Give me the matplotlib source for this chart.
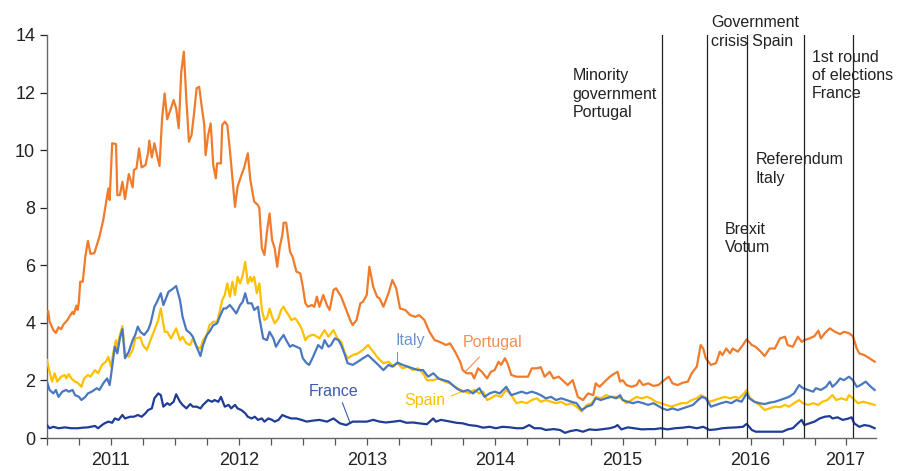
import matplotlib.pyplot as plt
from matplotlib.ticker import FixedLocator, NullFormatter

plt.rcParams['font.family'] = ['Liberation Sans', 'DejaVu Sans']

# --- data (decimal years, spread in %-points) ---
pt_x = [2011.01, 2011.02, 2011.05, 2011.07, 2011.09, 2011.11, 2011.13, 2011.16, 2011.18, 2011.20,
        2011.21, 2011.23, 2011.24, 2011.25, 2011.26, 2011.28, 2011.30, 2011.32, 2011.34, 2011.37,
        2011.39, 2011.41, 2011.44, 2011.47, 2011.48, 2011.49, 2011.51, 2011.54, 2011.55, 2011.57,
        2011.59, 2011.61, 2011.64, 2011.67, 2011.68, 2011.70, 2011.72, 2011.74, 2011.77, 2011.79,
        2011.80, 2011.82, 2011.84, 2011.86, 2011.88, 2011.90, 2011.92, 2011.94, 2011.96, 2011.99,
        2012.01, 2012.03, 2012.05, 2012.07, 2012.09, 2012.11, 2012.13, 2012.15, 2012.17, 2012.19,
        2012.21, 2012.23, 2012.24, 2012.26, 2012.28, 2012.30, 2012.32, 2012.33, 2012.36, 2012.37,
        2012.39, 2012.41, 2012.43, 2012.47, 2012.49, 2012.52, 2012.54, 2012.57, 2012.59, 2012.62,
        2012.65, 2012.66, 2012.68, 2012.70, 2012.72, 2012.74, 2012.76, 2012.78, 2012.80, 2012.82,
        2012.84, 2012.85, 2012.87, 2012.90, 2012.92, 2012.95, 2012.98, 2013.00, 2013.02, 2013.04,
        2013.07, 2013.09, 2013.11, 2013.13, 2013.16, 2013.19, 2013.21, 2013.24, 2013.26, 2013.30,
        2013.34, 2013.37, 2013.39, 2013.42, 2013.45, 2013.47, 2013.50, 2013.52, 2013.55, 2013.58,
        2013.60, 2013.63, 2013.67, 2013.70, 2013.73, 2013.76, 2013.80, 2013.84, 2013.88, 2013.91,
        2013.95, 2013.99, 2014.03, 2014.07, 2014.12, 2014.15, 2014.19, 2014.23, 2014.25, 2014.28,
        2014.32, 2014.34, 2014.37, 2014.40, 2014.44, 2014.47, 2014.50, 2014.53, 2014.55, 2014.58,
        2014.60, 2014.63, 2014.67, 2014.71, 2014.76, 2014.79, 2014.83, 2014.86, 2014.89, 2014.93,
        2014.96, 2015.00, 2015.03, 2015.07, 2015.11, 2015.15, 2015.19, 2015.23, 2015.27, 2015.29,
        2015.32, 2015.36, 2015.40, 2015.44, 2015.46, 2015.48, 2015.50, 2015.53, 2015.57, 2015.61,
        2015.63, 2015.66, 2015.70, 2015.74, 2015.78, 2015.81, 2015.86, 2015.89, 2015.93, 2015.97,
        2016.01, 2016.04, 2016.08, 2016.11, 2016.13, 2016.15, 2016.19, 2016.23, 2016.26, 2016.28,
        2016.31, 2016.34, 2016.36, 2016.40, 2016.44, 2016.47, 2016.51, 2016.54, 2016.58, 2016.61,
        2016.65, 2016.69, 2016.73, 2016.77, 2016.79, 2016.83, 2016.87, 2016.90, 2016.92, 2016.96,
        2017.00, 2017.03, 2017.05, 2017.08, 2017.12, 2017.16, 2017.20, 2017.23, 2017.27, 2017.30,
        2017.33, 2017.35, 2017.39, 2017.43, 2017.47]
pt_y = [4.40, 4.05, 3.75, 3.65, 3.85, 3.78, 3.95, 4.10, 4.25, 4.38,
        4.30, 4.60, 4.45, 4.75, 5.43, 5.43, 6.30, 6.85, 6.40, 6.42,
        6.70, 6.99, 7.57, 8.38, 8.67, 8.27, 10.24, 10.21, 8.44, 8.44,
        8.90, 8.30, 9.17, 8.71, 9.31, 9.37, 10.06, 9.40, 9.48, 9.89,
        10.33, 9.75, 10.24, 9.83, 9.45, 11.10, 11.97, 11.07, 11.33, 11.74,
        11.45, 10.76, 12.72, 13.42, 11.74, 10.29, 10.52, 11.28, 12.15, 12.20,
        11.51, 10.87, 9.83, 10.52, 10.93, 9.48, 9.02, 9.54, 9.54, 10.87,
        10.99, 10.87, 10.00, 8.03, 8.73, 9.13, 9.37, 9.89, 8.96, 8.21,
        8.09, 7.98, 6.59, 6.36, 7.17, 7.80, 6.88, 6.59, 5.95, 6.64,
        7.05, 7.48, 7.48, 6.47, 6.30, 5.78, 5.72, 5.26, 4.68, 4.56,
        4.62, 4.56, 4.91, 4.56, 4.97, 4.60, 4.45, 5.14, 5.20, 4.91,
        4.45, 4.10, 3.92, 4.10, 4.68, 4.73, 4.97, 5.95, 5.26, 4.91,
        4.85, 4.56, 5.03, 5.49, 5.20, 4.50, 4.45, 4.27, 4.21, 4.27,
        4.10, 3.69, 3.40, 3.34, 3.23, 3.29, 3.00, 2.65, 2.36, 2.25,
        2.25, 2.07, 2.42, 2.30, 2.07, 2.30, 2.36, 2.65, 2.54, 2.77,
        2.60, 2.19, 2.13, 2.13, 2.13, 2.42, 2.42, 2.46, 2.13, 2.30,
        2.07, 2.13, 2.01, 1.84, 2.01, 1.43, 1.32, 1.55, 1.49, 1.90,
        1.78, 1.96, 2.13, 2.25, 2.30, 1.96, 2.01, 1.84, 1.78, 1.84,
        2.01, 1.84, 1.90, 1.81, 1.84, 1.96, 2.13, 1.90, 1.84, 1.92,
        1.96, 2.25, 2.48, 3.23, 3.11, 2.77, 2.54, 2.60, 3.00, 2.88,
        3.11, 2.94, 3.11, 3.00, 3.23, 3.43, 3.23, 3.17, 3.00, 2.85,
        3.11, 3.11, 3.46, 3.52, 3.23, 3.17, 3.52, 3.34, 3.40, 3.46,
        3.54, 3.73, 3.46, 3.64, 3.81, 3.69, 3.61, 3.69, 3.64, 3.54,
        3.11, 2.94, 2.88, 2.77, 2.65]

es_x = [2011.00, 2011.02, 2011.04, 2011.06, 2011.08, 2011.11, 2011.14, 2011.15, 2011.17, 2011.19,
        2011.22, 2011.24, 2011.27, 2011.29, 2011.32, 2011.34, 2011.375, 2011.40, 2011.43, 2011.46,
        2011.48, 2011.50, 2011.52, 2011.54, 2011.55, 2011.57, 2011.59, 2011.61, 2011.64, 2011.67,
        2011.69, 2011.73, 2011.75, 2011.78, 2011.81, 2011.84, 2011.87, 2011.89, 2011.92, 2011.94,
        2011.97, 2011.99, 2012.01, 2012.04, 2012.06, 2012.09, 2012.12, 2012.14, 2012.17, 2012.20,
        2012.22, 2012.25, 2012.27, 2012.30, 2012.33, 2012.35, 2012.37, 2012.39, 2012.41, 2012.43,
        2012.45, 2012.47, 2012.49, 2012.51, 2012.53, 2012.55, 2012.57, 2012.59, 2012.60, 2012.62,
        2012.64, 2012.66, 2012.68, 2012.70, 2012.72, 2012.74, 2012.76, 2012.78, 2012.81, 2012.83,
        2012.85, 2012.87, 2012.89, 2012.91, 2012.94, 2012.96, 2012.99, 2013.02, 2013.04, 2013.07,
        2013.09, 2013.13, 2013.17, 2013.20, 2013.24, 2013.27, 2013.30, 2013.33, 2013.35, 2013.39,
        2013.43, 2013.47, 2013.51, 2013.55, 2013.59, 2013.63, 2013.67, 2013.71, 2013.74, 2013.78,
        2013.82, 2013.86, 2013.90, 2013.94, 2013.97, 2014.02, 2014.06, 2014.11, 2014.15, 2014.19,
        2014.23, 2014.27, 2014.30, 2014.34, 2014.38, 2014.41, 2014.44, 2014.47, 2014.51, 2014.55,
        2014.59, 2014.63, 2014.67, 2014.71, 2014.75, 2014.79, 2014.83, 2014.86, 2014.90, 2014.94,
        2014.98, 2015.02, 2015.06, 2015.10, 2015.14, 2015.18, 2015.22, 2015.26, 2015.29, 2015.33,
        2015.37, 2015.41, 2015.45, 2015.49, 2015.53, 2015.57, 2015.61, 2015.65, 2015.69, 2015.72,
        2015.76, 2015.80, 2015.84, 2015.88, 2015.92, 2015.96, 2016.00, 2016.04, 2016.08, 2016.11,
        2016.14, 2016.18, 2016.22, 2016.26, 2016.30, 2016.34, 2016.38, 2016.41, 2016.45, 2016.47,
        2016.49, 2016.53, 2016.57, 2016.61, 2016.65, 2016.69, 2016.73, 2016.77, 2016.80, 2016.84,
        2016.88, 2016.91, 2016.95, 2016.99, 2017.03, 2017.06, 2017.10, 2017.14, 2017.17, 2017.21,
        2017.25, 2017.27, 2017.30, 2017.34, 2017.38, 2017.42, 2017.47]
es_y = [2.71, 2.30, 1.96, 2.25, 1.96, 2.13, 2.19, 2.07, 2.22, 2.07,
        1.96, 1.92, 1.78, 2.07, 2.19, 2.13, 2.36, 2.25, 2.54, 2.65,
        2.82, 2.48, 3.00, 3.40, 3.06, 3.58, 3.89, 2.94, 2.82, 3.06,
        3.46, 3.50, 3.23, 3.06, 3.40, 3.75, 4.10, 4.50, 3.69, 3.69,
        3.46, 3.64, 3.81, 3.40, 3.52, 3.29, 3.23, 3.46, 3.17, 3.11,
        3.40, 3.58, 3.92, 4.04, 4.04, 4.39, 4.79, 4.97, 5.37, 4.91,
        5.43, 4.97, 5.60, 5.37, 5.66, 6.12, 5.37, 5.60, 5.43, 5.60,
        5.03, 5.37, 4.45, 4.10, 4.16, 4.50, 4.21, 3.98, 4.16, 4.45,
        4.56, 4.39, 4.27, 4.10, 4.16, 4.04, 3.81, 3.40, 3.52, 3.58,
        3.58, 3.46, 3.75, 3.52, 3.75, 3.46, 3.34, 2.94, 2.77, 2.88,
        2.94, 3.06, 3.23, 3.00, 2.77, 2.60, 2.65, 2.48, 2.60, 2.42,
        2.48, 2.36, 2.42, 2.25, 2.01, 2.01, 2.07, 1.96, 1.90, 1.78,
        1.67, 1.61, 1.55, 1.67, 1.55, 1.61, 1.32, 1.38, 1.49, 1.43,
        1.67, 1.49, 1.21, 1.26, 1.21, 1.32, 1.38, 1.26, 1.32, 1.26,
        1.21, 1.26, 1.15, 1.21, 1.09, 0.92, 1.15, 1.21, 1.43, 1.38,
        1.49, 1.43, 1.43, 1.38, 1.21, 1.32, 1.43, 1.38, 1.43, 1.38,
        1.26, 1.21, 1.15, 1.09, 1.15, 1.21, 1.21, 1.32, 1.38, 1.49,
        1.43, 1.26, 1.32, 1.38, 1.43, 1.38, 1.43, 1.38, 1.55, 1.67,
        1.43, 1.26, 1.15, 0.97, 1.03, 1.09, 1.07, 1.15, 1.09, 1.21,
        1.32, 1.21, 1.15, 1.21, 1.15, 1.26, 1.32, 1.49, 1.32, 1.38,
        1.32, 1.49, 1.38, 1.21, 1.26, 1.21, 1.15]

it_x = [2011.00, 2011.02, 2011.05, 2011.07, 2011.09, 2011.12, 2011.15, 2011.17, 2011.20, 2011.22,
        2011.25, 2011.27, 2011.30, 2011.32, 2011.35, 2011.39, 2011.41, 2011.44, 2011.47, 2011.49,
        2011.51, 2011.53, 2011.55, 2011.57, 2011.59, 2011.61, 2011.64, 2011.67, 2011.69, 2011.71,
        2011.73, 2011.76, 2011.79, 2011.81, 2011.84, 2011.86, 2011.89, 2011.91, 2011.93, 2011.95,
        2011.98, 2012.01, 2012.04, 2012.06, 2012.09, 2012.12, 2012.14, 2012.17, 2012.20, 2012.22,
        2012.25, 2012.27, 2012.30, 2012.33, 2012.35, 2012.38, 2012.40, 2012.43, 2012.46, 2012.48,
        2012.51, 2012.53, 2012.55, 2012.57, 2012.60, 2012.62, 2012.65, 2012.66, 2012.69, 2012.72,
        2012.74, 2012.77, 2012.79, 2012.82, 2012.85, 2012.87, 2012.90, 2012.92, 2012.95, 2012.98,
        2013.00, 2013.03, 2013.05, 2013.08, 2013.12, 2013.15, 2013.17, 2013.20, 2013.22, 2013.25,
        2013.28, 2013.30, 2013.33, 2013.35, 2013.39, 2013.43, 2013.47, 2013.51, 2013.55, 2013.59,
        2013.63, 2013.67, 2013.70, 2013.74, 2013.78, 2013.82, 2013.86, 2013.90, 2013.94, 2013.98,
        2014.02, 2014.06, 2014.10, 2014.14, 2014.20, 2014.25, 2014.29, 2014.33, 2014.38, 2014.42,
        2014.46, 2014.50, 2014.54, 2014.59, 2014.63, 2014.67, 2014.71, 2014.75, 2014.79, 2014.83,
        2014.86, 2014.90, 2014.94, 2014.98, 2015.02, 2015.06, 2015.10, 2015.14, 2015.18, 2015.22,
        2015.26, 2015.29, 2015.33, 2015.37, 2015.41, 2015.45, 2015.48, 2015.50, 2015.54, 2015.58,
        2015.62, 2015.66, 2015.70, 2015.74, 2015.78, 2015.81, 2015.85, 2015.89, 2015.93, 2015.97,
        2016.01, 2016.05, 2016.09, 2016.12, 2016.15, 2016.19, 2016.23, 2016.27, 2016.31, 2016.35,
        2016.39, 2016.43, 2016.47, 2016.49, 2016.53, 2016.57, 2016.61, 2016.65, 2016.69, 2016.73,
        2016.77, 2016.80, 2016.84, 2016.88, 2016.91, 2016.95, 2016.99, 2017.01, 2017.05, 2017.09,
        2017.12, 2017.14, 2017.17, 2017.20, 2017.23, 2017.27, 2017.30, 2017.33, 2017.36, 2017.40,
        2017.44, 2017.47]
it_y = [1.96, 1.67, 1.55, 1.67, 1.43, 1.61, 1.67, 1.61, 1.67, 1.49,
        1.43, 1.32, 1.43, 1.55, 1.61, 1.73, 1.67, 1.90, 2.07, 1.84,
        2.48, 3.17, 2.94, 3.46, 3.78, 2.77, 3.00, 3.40, 3.58, 3.87,
        3.69, 3.58, 3.75, 3.98, 4.56, 4.73, 5.03, 4.62, 4.85, 5.08,
        5.17, 5.28, 4.79, 4.21, 3.75, 3.64, 3.52, 3.17, 2.85, 3.23,
        3.58, 3.69, 3.92, 3.98, 4.21, 4.50, 4.50, 4.62, 4.45, 4.33,
        4.62, 4.73, 5.03, 4.68, 4.68, 4.45, 4.56, 4.21, 3.46, 3.40,
        3.69, 3.46, 3.17, 3.40, 3.58, 3.40, 3.17, 3.23, 3.17, 3.11,
        2.77, 2.60, 2.54, 2.82, 3.23, 3.11, 3.40, 3.17, 3.23, 3.46,
        3.40, 3.23, 2.88, 2.60, 2.54, 2.65, 2.77, 2.88, 2.71, 2.54,
        2.36, 2.54, 2.48, 2.62, 2.54, 2.48, 2.42, 2.36, 2.36, 2.13,
        2.25, 2.07, 2.01, 1.96, 1.73, 1.61, 1.67, 1.55, 1.73, 1.43,
        1.55, 1.61, 1.55, 1.78, 1.49, 1.55, 1.61, 1.55, 1.61, 1.55,
        1.49, 1.38, 1.43, 1.32, 1.38, 1.32, 1.26, 1.21, 0.97, 1.09,
        1.15, 1.38, 1.32, 1.38, 1.43, 1.38, 1.49, 1.32, 1.26, 1.21,
        1.26, 1.21, 1.15, 1.21, 1.11, 1.03, 0.97, 1.03, 0.97, 1.03,
        1.09, 1.15, 1.32, 1.43, 1.38, 1.09, 1.15, 1.21, 1.26, 1.21,
        1.32, 1.26, 1.55, 1.38, 1.26, 1.21, 1.18, 1.23, 1.26, 1.32,
        1.38, 1.43, 1.55, 1.84, 1.73, 1.67, 1.61, 1.73, 1.67, 1.78,
        1.96, 1.78, 1.90, 2.07, 2.01, 2.13, 2.01, 1.78, 1.84, 1.96,
        1.78, 1.67]

fr_x = [2011.00, 2011.02, 2011.05, 2011.09, 2011.14, 2011.19, 2011.24, 2011.28, 2011.32, 2011.375,
        2011.40, 2011.43, 2011.45, 2011.48, 2011.51, 2011.53, 2011.56, 2011.59, 2011.61, 2011.65,
        2011.68, 2011.71, 2011.74, 2011.77, 2011.79, 2011.82, 2011.84, 2011.87, 2011.89, 2011.91,
        2011.94, 2011.96, 2011.99, 2012.01, 2012.04, 2012.06, 2012.09, 2012.12, 2012.14, 2012.17,
        2012.20, 2012.22, 2012.26, 2012.29, 2012.31, 2012.34, 2012.36, 2012.39, 2012.42, 2012.44,
        2012.47, 2012.49, 2012.52, 2012.55, 2012.57, 2012.60, 2012.625, 2012.65, 2012.68, 2012.70,
        2012.73, 2012.76, 2012.78, 2012.81, 2012.84, 2012.87, 2012.91, 2012.95, 2012.99, 2013.03,
        2013.07, 2013.13, 2013.19, 2013.24, 2013.29, 2013.34, 2013.39, 2013.45, 2013.50, 2013.55,
        2013.60, 2013.65, 2013.71, 2013.76, 2013.81, 2013.86, 2013.91, 2013.97, 2014.02, 2014.04,
        2014.08, 2014.13, 2014.20, 2014.25, 2014.30, 2014.36, 2014.41, 2014.46, 2014.51, 2014.56,
        2014.62, 2014.67, 2014.72, 2014.77, 2014.81, 2014.86, 2014.90, 2014.96, 2015.01, 2015.05,
        2015.09, 2015.14, 2015.19, 2015.24, 2015.29, 2015.35, 2015.40, 2015.44, 2015.46, 2015.49,
        2015.54, 2015.59, 2015.65, 2015.70, 2015.75, 2015.80, 2015.85, 2015.91, 2015.97, 2016.02,
        2016.08, 2016.13, 2016.18, 2016.23, 2016.28, 2016.34, 2016.39, 2016.44, 2016.47, 2016.51,
        2016.54, 2016.59, 2016.65, 2016.70, 2016.75, 2016.79, 2016.83, 2016.87, 2016.90, 2016.92,
        2016.96, 2017.00, 2017.04, 2017.08, 2017.12, 2017.14, 2017.18, 2017.22, 2017.26, 2017.29,
        2017.31, 2017.35, 2017.39, 2017.43, 2017.47]
fr_y = [0.45, 0.34, 0.39, 0.34, 0.37, 0.34, 0.34, 0.36, 0.37, 0.42,
        0.34, 0.45, 0.51, 0.57, 0.53, 0.68, 0.63, 0.80, 0.68, 0.74,
        0.74, 0.80, 0.74, 0.86, 0.97, 1.03, 1.38, 1.55, 1.49, 1.09,
        1.21, 1.15, 1.26, 1.52, 1.26, 1.15, 1.03, 1.18, 1.09, 1.09,
        1.03, 1.15, 1.32, 1.26, 1.32, 1.26, 1.43, 1.09, 1.15, 1.03,
        1.15, 1.03, 0.97, 0.86, 0.74, 0.68, 0.74, 0.63, 0.68, 0.57,
        0.68, 0.63, 0.57, 0.63, 0.80, 0.74, 0.68, 0.68, 0.63, 0.57,
        0.60, 0.63, 0.57, 0.68, 0.51, 0.45, 0.57, 0.57, 0.57, 0.63,
        0.57, 0.54, 0.57, 0.60, 0.53, 0.54, 0.51, 0.48, 0.68, 0.57,
        0.63, 0.59, 0.53, 0.51, 0.45, 0.42, 0.36, 0.39, 0.34, 0.39,
        0.37, 0.34, 0.34, 0.45, 0.34, 0.34, 0.28, 0.31, 0.28, 0.18,
        0.24, 0.28, 0.22, 0.30, 0.28, 0.31, 0.34, 0.39, 0.45, 0.30,
        0.37, 0.34, 0.30, 0.31, 0.31, 0.34, 0.30, 0.34, 0.36, 0.39,
        0.34, 0.39, 0.28, 0.30, 0.34, 0.36, 0.37, 0.39, 0.49, 0.28,
        0.22, 0.22, 0.22, 0.22, 0.22, 0.30, 0.34, 0.51, 0.63, 0.45,
        0.51, 0.57, 0.68, 0.74, 0.76, 0.68, 0.72, 0.63, 0.67, 0.72,
        0.51, 0.39, 0.45, 0.42, 0.34]

events_x = [2015.81, 2016.16, 2016.47, 2016.92, 2017.30]
event_labels = ["Minority\ngovernment\nPortugal", "Government\ncrisis Spain", "Brexit\nVotum",
                "Referendum\nItaly", "1st round\nof elections\nFrance"]
event_label_pos = [(2015.11, 11.95), (2016.19, 14.1), (2016.30, 6.93), (2016.54, 9.34), (2016.98, 12.59)]

year_ticks = [2011, 2012, 2013, 2014, 2015, 2016, 2017]
year_label_pos = [2011.5, 2012.5, 2013.5, 2014.5, 2015.5, 2016.5, 2017.24]

c_pt = "#F07B2A"
c_es = "#FFC000"
c_it = "#4A78C0"
c_fr = "#1F3C96"

fig = plt.figure(figsize=(9.03, 4.71), dpi=100)
ax = fig.add_axes([0.052, 0.070, 0.918, 0.8557])

ax.plot(pt_x, pt_y, color=c_pt, lw=1.6, zorder=3)
ax.plot(es_x, es_y, color=c_es, lw=1.6, zorder=3)
ax.plot(it_x, it_y, color=c_it, lw=1.6, zorder=4)
ax.plot(fr_x, fr_y, color=c_fr, lw=1.6, zorder=4)

for ev in events_x:
    ax.axvline(ev, color="#222222", lw=0.9, zorder=5)

for txt, (px, py) in zip(event_labels, event_label_pos):
    ax.text(px, py, txt, fontsize=11.5, color="#222222", ha="left", va="center",
            linespacing=1.28, zorder=6)

# series labels with leader lines
ax.text(2013.84, 3.40, "Italy", fontsize=11.5, color="#6F93D3", ha="center", va="center")
ax.plot([2013.74, 2013.74], [3.0, 2.65], color="#6F93D3", lw=0.8)
ax.text(2013.24, 1.60, "France", fontsize=11.5, color="#3A5AAE", ha="center", va="center")
ax.plot([2013.31, 2013.37], [1.22, 0.52], color="#3A5AAE", lw=0.8)
ax.text(2013.95, 1.29, "Spain", fontsize=11.5, color="#FFC000", ha="center", va="center")
ax.plot([2014.16, 2014.26], [1.46, 1.65], color="#FFC000", lw=0.8)
ax.text(2014.48, 3.33, "Portugal", fontsize=11.5, color="#F39050", ha="center", va="center")
ax.plot([2014.38, 2014.27], [2.81, 2.30], color="#F39050", lw=0.8)

ax.set_xlim(2011.0, 2017.48)
ax.set_ylim(0, 14)
ax.set_yticks(range(0, 15, 2))
ax.tick_params(axis="y", labelsize=13, colors="#222222", length=5, width=0.9, direction="out")

# year labels centred in each year (major, no mark), quarter tick marks (minor)
quarters = [y + q / 4 for y in range(2011, 2018) for q in range(4) if y + q / 4 <= 2017.48]
ax.xaxis.remove_overlapping_locs = False
ax.xaxis.set_major_locator(FixedLocator(year_label_pos))
ax.set_xticklabels([str(y) for y in year_ticks])
ax.xaxis.set_minor_locator(FixedLocator(quarters))
ax.xaxis.set_minor_formatter(NullFormatter())
ax.tick_params(axis="x", which="major", length=0, labelsize=13, labelcolor="#222222", pad=10)
ax.tick_params(axis="x", which="minor", length=5, width=0.9, colors="#555555", direction="out")

for s in ["top", "right"]:
    ax.spines[s].set_visible(False)
for s in ["left", "bottom"]:
    ax.spines[s].set_color("#666666")
    ax.spines[s].set_linewidth(1.0)

fig.savefig("out.png", dpi=100)
